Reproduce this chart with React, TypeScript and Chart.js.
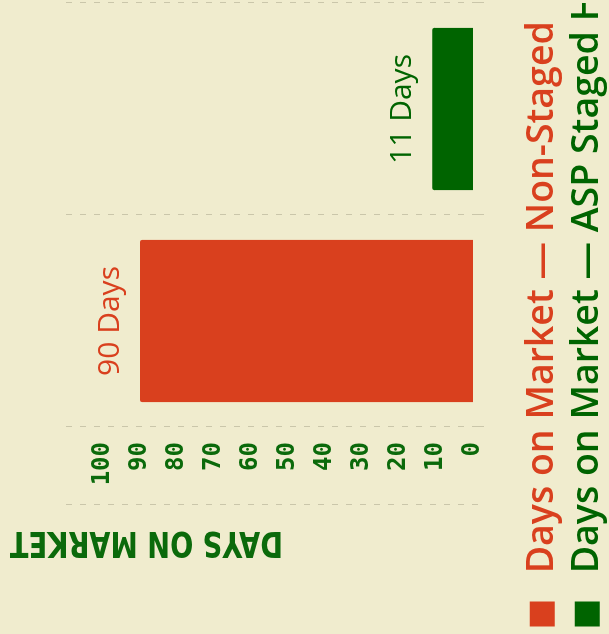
import React, { useEffect, useRef } from 'react';
import { Chart, registerables } from 'chart.js';

Chart.register(...registerables);

// ---- data ----
const categories = ['Days on Market — Non-Staged', 'Days on Market — ASP Staged Homes'];
const daysOnMarket = [90, 11];
const barColors = ['#d9401e', '#006400'];
const yTickValues = [0, 10, 20, 30, 40, 50, 60, 70, 80, 90, 100];
const yAxisMax = 110;
const yAxisTitle = 'DAYS ON MARKET';
const valueSuffix = ' Days';

// ---- style ----
const BG = '#f0ecce';
const GRID = '#cac6aa';
const AXIS_GREEN = '#0b6a0b';
const CANVAS_W = 634;
const CANVAS_H = 640;

const bgPlugin = {
  id: 'bgFill',
  beforeDraw(chart: any) {
    const { ctx, width, height } = chart;
    ctx.save();
    ctx.fillStyle = BG;
    ctx.fillRect(0, 0, width, height);
    ctx.restore();
  },
};

const extrasPlugin = {
  id: 'extras',
  afterDraw(chart: any) {
    const { ctx, chartArea } = chart;
    // extra dashed rule left of the tick labels
    ctx.save();
    ctx.strokeStyle = GRID;
    ctx.lineWidth = 1;
    ctx.setLineDash([6, 8]);
    const lx = Math.round(chartArea.left - 78) + 0.5;
    ctx.beginPath();
    ctx.moveTo(lx, chartArea.top);
    ctx.lineTo(lx, chartArea.bottom + 11);
    ctx.stroke();
    ctx.restore();

    // axis title
    ctx.save();
    ctx.translate(chartArea.left - 114, chartArea.top + 217);
    ctx.rotate(-Math.PI / 2);
    ctx.font = 'bold 36px "DejaVu Sans Condensed", "DejaVu Sans", sans-serif';
    const w = ctx.measureText(yAxisTitle).width;
    ctx.scale(273 / w, 1);
    ctx.fillStyle = AXIS_GREEN;
    ctx.textAlign = 'left';
    ctx.textBaseline = 'middle';
    ctx.fillText(yAxisTitle, 0, 0);
    ctx.restore();

    // value labels
    const meta = chart.getDatasetMeta(0);
    ctx.save();
    ctx.font = '500 30px "Open Sans", sans-serif';
    ctx.textAlign = 'center';
    ctx.textBaseline = 'alphabetic';
    meta.data.forEach((bar: any, i: number) => {
      ctx.fillStyle = barColors[i];
      ctx.fillText(`${daysOnMarket[i]}${valueSuffix}`, bar.x, bar.y - 21);
    });
    ctx.restore();
  },
};

export default function App() {
  const canvasRef = useRef<HTMLCanvasElement | null>(null);

  useEffect(() => {
    document.body.style.margin = '0';
    document.body.style.background = BG;
    const canvas = canvasRef.current;
    if (!canvas) return;
    const chart = new Chart(canvas, {
      type: 'bar',
      data: {
        labels: categories,
        datasets: [
          {
            label: 'Days on Market',
            data: daysOnMarket,
            backgroundColor: barColors,
            borderWidth: 0,
            borderRadius: 2,
            barPercentage: 0.85,
            categoryPercentage: 0.9,
          },
        ],
      },
      options: {
        responsive: false,
        animation: false,
        devicePixelRatio: 1,
        layout: { padding: { top: 66, right: 3, left: 0, bottom: 24 } },
        plugins: {
          tooltip: { enabled: false },
          legend: {
            display: true,
            position: 'bottom',
            align: 'start',
            labels: {
              boxWidth: 25,
              boxHeight: 25,
              padding: 7.5,
              font: { family: '"Open Sans", sans-serif', size: 37.5, weight: '600' },
              generateLabels: () =>
                categories.map((c, i) => ({
                  text: '\u2005' + c,
                  fillStyle: barColors[i],
                  strokeStyle: barColors[i],
                  lineWidth: 0,
                  fontColor: barColors[i],
                  hidden: false,
                  index: i,
                  datasetIndex: 0,
                })),
            },
          },
        },
        scales: {
          x: {
            grid: {
              display: true,
              offset: true,
              color: GRID,
              lineWidth: 1,
              drawTicks: true,
              tickLength: 11,
            },
            border: { display: false, dash: [6, 8] },
            ticks: { display: false },
            afterFit: (scale: any) => {
              scale.height = 43;
            },
          },
          y: {
            min: 0,
            max: yAxisMax,
            grid: { display: false, drawTicks: false },
            border: { display: false },
            afterBuildTicks: (scale: any) => {
              scale.ticks = yTickValues.map((v) => ({ value: v }));
            },
            ticks: {
              padding: 15,
              color: AXIS_GREEN,
              font: { family: '"DejaVu Sans Mono", monospace', size: 24, weight: 'bold' },
            },
            afterFit: (scale: any) => {
              scale.width = 207;
            },
          },
        },
      },
      plugins: [bgPlugin, extrasPlugin],
    } as any);
    return () => chart.destroy();
  }, []);

  return (
    <div
      style={{
        position: 'fixed',
        left: 0,
        top: 0,
        width: 609,
        height: 634,
        overflow: 'hidden',
        background: BG,
      }}
    >
      <div
        style={{
          position: 'absolute',
          left: 0,
          top: 0,
          width: CANVAS_W,
          height: CANVAS_H,
          transformOrigin: '0 0',
          transform: `translate(0px, ${CANVAS_W}px) rotate(-90deg)`,
        }}
      >
        <canvas
          ref={canvasRef}
          width={CANVAS_W}
          height={CANVAS_H}
          style={{ display: 'block', width: CANVAS_W, height: CANVAS_H }}
        />
      </div>
    </div>
  );
}
